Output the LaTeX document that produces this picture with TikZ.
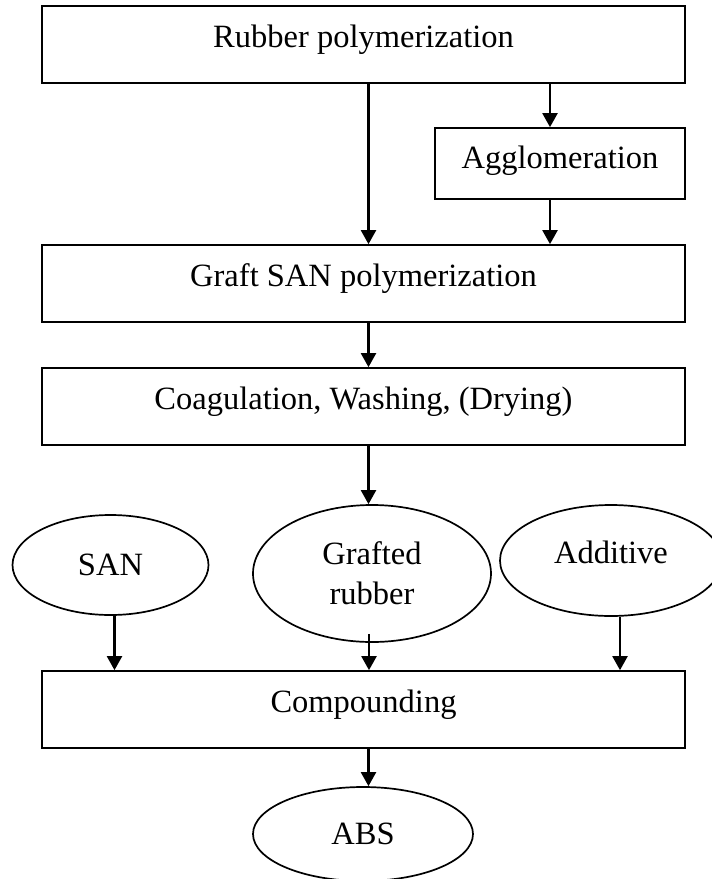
\documentclass[tikz,border=0pt]{standalone}
\usepackage{fontspec}
\setmainfont{Liberation Serif}
\usetikzlibrary{arrows.meta,shapes.geometric}

\newcommand{\flowfont}{\fontsize{32.5pt}{40pt}\selectfont}

\tikzset{
  procbox/.style={draw,line width=1.7pt,inner sep=0pt,font=\flowfont,
    minimum width=643pt,text height=41pt,text depth=36pt},
  stage/.style={ellipse,draw,line width=1.7pt,inner sep=0pt,font=\flowfont,align=center},
  flow/.style={-{Triangle[length=14pt,width=15pt]},line width=2.2pt}
}

\begin{document}
\begin{tikzpicture}[x=1pt,y=-1pt]
  \useasboundingbox (0,0) rectangle (712,879);

  % Process boxes
  \node[procbox] (rubber) at (363.5,44.5) {Rubber polymerization};
  \node[procbox,minimum width=250pt,text height=40pt,text depth=31pt] (agglo) at (560,163.5) {Agglomeration};
  \node[procbox] (graft) at (363.5,283.5) {Graft SAN polymerization};
  \node[procbox] (coag) at (363.5,406.5) {Coagulation, Washing, (Drying)};
  \node[procbox] (comp) at (363.5,709.5) {Compounding};

  % Ellipses
  \node[stage,minimum width=196pt,minimum height=100pt] (san) at (110.5,565) {SAN};
  \node[stage,minimum width=238pt,minimum height=137pt] (grubber) at (372,573.5) {Grafted\\rubber};
  \node[stage,minimum width=222pt,minimum height=111pt,text height=22pt,text depth=17pt] (additive) at (611,560.5) {Additive};
  \node[stage,minimum width=220pt,minimum height=94pt] (abs) at (363,834) {ABS};

  % Arrows
  \draw[flow] ([xshift=5pt]rubber.south) -- ([xshift=5pt]graft.north);
  \draw[flow] ([xshift=-10pt]agglo.north |- rubber.south) -- ([xshift=-10pt]agglo.north);
  \draw[flow] ([xshift=-10pt]agglo.south) -- ([xshift=-10pt]agglo.south |- graft.north);
  \draw[flow] ([xshift=5pt]graft.south) -- ([xshift=5pt]coag.north);
  \draw[flow] ([xshift=5pt]coag.south) -- ([xshift=5pt]coag.south |- grubber.north);
  \draw[flow] ([xshift=4pt]san.south) -- ([xshift=4pt]san.south |- comp.north);
  \draw[flow] ([xshift=-3pt,yshift=9pt]grubber.south) -- ([xshift=-3pt]grubber.south |- comp.north);
  \draw[flow] ([xshift=9pt]additive.south) -- ([xshift=9pt]additive.south |- comp.north);
  \draw[flow] ([xshift=5pt]comp.south) -- ([xshift=5pt]comp.south |- abs.north);
\end{tikzpicture}
\end{document}
